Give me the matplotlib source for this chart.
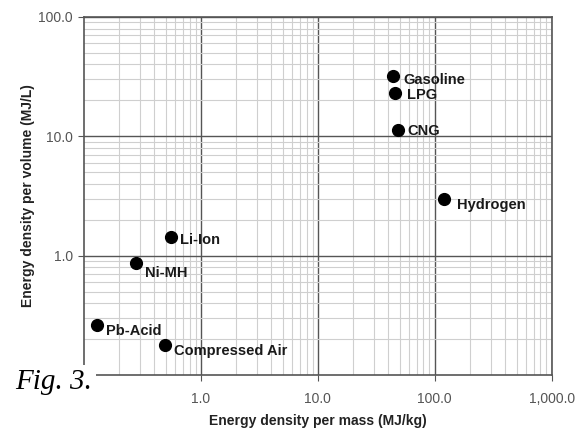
import numpy as np
from matplotlib import pyplot as plt
from matplotlib.ticker import FixedLocator, LogLocator, NullFormatter

# Energy storage options
names = ['Gasoline', 'LPG', 'CNG', 'Hydrogen', 'Li-Ion', 'Ni-MH',
         'Pb-Acid', 'Compressed Air']
mass_density = [44, 46, 48, 120, 0.56, 0.28, 0.13, 0.49]       # MJ/kg
volume_density = [32, 23, 11.3, 3.0, 1.43, 0.86, 0.26, 0.177]  # MJ/L

xticks = [1, 10, 100, 1000]
xticklabels = ['1.0', '10.0', '100.0', '1,000.0']
yticks = [1, 10, 100]
yticklabels = ['1.0', '10.0', '100.0']

# label offsets from the point (points)
label_offsets = {'Gasoline': (7.5, -3), 'LPG': (8.5, -1.5), 'CNG': (7, -1),
                 'Hydrogen': (9, -4.5), 'Li-Ion': (6.3, -2.2),
                 'Ni-MH': (6.3, -6.5), 'Pb-Acid': (6.3, -4.3),
                 'Compressed Air': (7, -4.3)}

plt.rcParams['font.family'] = ['Liberation Sans', 'DejaVu Sans']

fig = plt.figure(figsize=(5.81, 4.30), dpi=100)
ax = fig.add_axes([0.1446, 0.1279, 0.805, 0.8326])

ax.set_xscale('log')
ax.set_yscale('log')
ax.set_xlim(0.1, 1000)
ax.set_ylim(0.1, 100)

# Grid: dark majors, light minors
ax.xaxis.set_minor_locator(LogLocator(base=10, subs=np.arange(2, 10)))
ax.yaxis.set_minor_locator(LogLocator(base=10, subs=np.arange(2, 10)))
ax.xaxis.set_minor_formatter(NullFormatter())
ax.yaxis.set_minor_formatter(NullFormatter())
ax.grid(which='minor', color='#cfcfcf', linewidth=0.8)
ax.grid(which='major', color='#555555', linewidth=1.0)
ax.set_axisbelow(True)

ax.xaxis.set_major_locator(FixedLocator(xticks))
ax.yaxis.set_major_locator(FixedLocator(yticks))
ax.set_xticklabels(xticklabels)
ax.set_yticklabels(yticklabels)
ax.tick_params(axis='x', which='major', length=4, color='#555555',
               labelsize=10, labelcolor='#555555', pad=8)
ax.tick_params(axis='y', which='major', length=4, color='#555555',
               labelsize=10, labelcolor='#555555', pad=4)
ax.tick_params(which='minor', length=0)
for s in ax.spines.values():
    s.set_color('#555555')
    s.set_linewidth(1.2)

# Points and labels
ax.scatter(mass_density, volume_density, s=72, color='black', zorder=3)
for n, x, y in zip(names, mass_density, volume_density):
    ax.annotate(n, (x, y), xytext=label_offsets[n], textcoords='offset points',
                fontsize=10.5, fontweight='bold', color='#1a1a1a',
                ha='left', va='center', zorder=4)

ax.set_xlabel('Energy density per mass (MJ/kg)', fontsize=10,
              fontweight='bold', color='#222222', labelpad=6)
ax.set_ylabel('Energy density per volume (MJ/L)', fontsize=10,
              fontweight='bold', color='#222222', labelpad=2)

# Figure caption overlapping the corner
fig.text(0.026, 0.095, 'Fig. 3.', fontsize=21, style='italic',
         family='Liberation Serif', color='black',
         bbox=dict(facecolor='white', edgecolor='none', pad=3))

plt.savefig('out.png', dpi=100)
